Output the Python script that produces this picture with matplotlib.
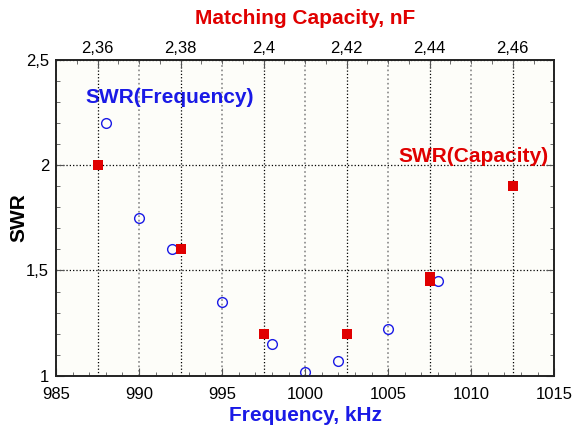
import numpy as np
import matplotlib
matplotlib.use("Agg")
import matplotlib.pyplot as plt
from matplotlib.ticker import MultipleLocator, FuncFormatter

plt.rcParams["font.family"] = ["Liberation Sans", "DejaVu Sans"]

# SWR vs frequency (bottom axis, kHz)
freq = [988, 990, 992, 995, 998, 1000, 1002, 1005, 1008]
swr_freq = [2.2, 1.75, 1.6, 1.35, 1.15, 1.02, 1.07, 1.22, 1.45]

# SWR vs matching capacity (top axis, nF)
cap = [2.36, 2.38, 2.40, 2.42, 2.44, 2.44, 2.46]
swr_cap = [2.0, 1.6, 1.2, 1.2, 1.47, 1.45, 1.9]

blue = "#1a1ae6"
red = "#e00000"


def comma(v, pos):
    return ("%g" % round(v, 4)).replace(".", ",")


fig = plt.figure(figsize=(5.75, 4.32), dpi=100)
ax = fig.add_axes([0.0974, 0.1303, 0.8666, 0.7307])
ax.set_facecolor("#fdfdf9")

ax.set_xlim(985, 1015)
ax.set_ylim(1, 2.5)
ax.xaxis.set_major_locator(MultipleLocator(5))
ax.xaxis.set_minor_locator(MultipleLocator(1))
ax.yaxis.set_major_locator(MultipleLocator(0.5))
ax.yaxis.set_minor_locator(MultipleLocator(0.1))
ax.yaxis.set_major_formatter(FuncFormatter(comma))
ax.tick_params(which="both", direction="in", top=False, right=True,
               labelsize=12, color="#555555")
ax.tick_params(which="major", length=6, pad=5)
ax.tick_params(axis="x", which="major", pad=8)
ax.tick_params(which="minor", length=3)
ax.xaxis.grid(True, which="major", linestyle=":", color="#888888", linewidth=1.2)
ax.yaxis.grid(True, which="major", linestyle=":", color="black", linewidth=0.9)

ax.plot(freq, swr_freq, "o", mfc="none", mec=blue, ms=7, mew=1.0, zorder=3)

ax.set_xlabel("Frequency, kHz", color=blue, fontsize=15, fontweight="bold", labelpad=3)
ax.set_ylabel("SWR", color="black", fontsize=15, fontweight="bold")
ax.yaxis.set_label_coords(-0.056, 0.5)

ax2 = ax.twiny()
ax2.set_xlim(2.35, 2.47)
ax2.xaxis.set_major_locator(MultipleLocator(0.02))
ax2.xaxis.set_minor_locator(MultipleLocator(0.005))
ax2.xaxis.set_major_formatter(FuncFormatter(comma))
ax2.tick_params(which="both", direction="in", labelsize=12, color="#555555")
ax2.tick_params(which="major", length=6, pad=3)
ax2.tick_params(which="minor", length=3)
ax2.xaxis.grid(True, which="major", linestyle=":", color="black", linewidth=0.9)
ax2.plot(cap, swr_cap, "s", color=red, ms=7, mew=0, zorder=4)
ax2.set_xlabel("Matching Capacity, nF", color=red, fontsize=15,
               fontweight="bold", labelpad=12)

ax.text(986.8, 2.32, "SWR(Frequency)", color=blue, fontsize=15,
        fontweight="bold", va="center", ha="left")
ax.text(1005.6, 2.04, "SWR(Capacity)", color=red, fontsize=15,
        fontweight="bold", va="center", ha="left")

for a in (ax, ax2):
    for s in a.spines.values():
        s.set_color("#222222")
        s.set_linewidth(1.2)

fig.savefig("out.png", dpi=100)
